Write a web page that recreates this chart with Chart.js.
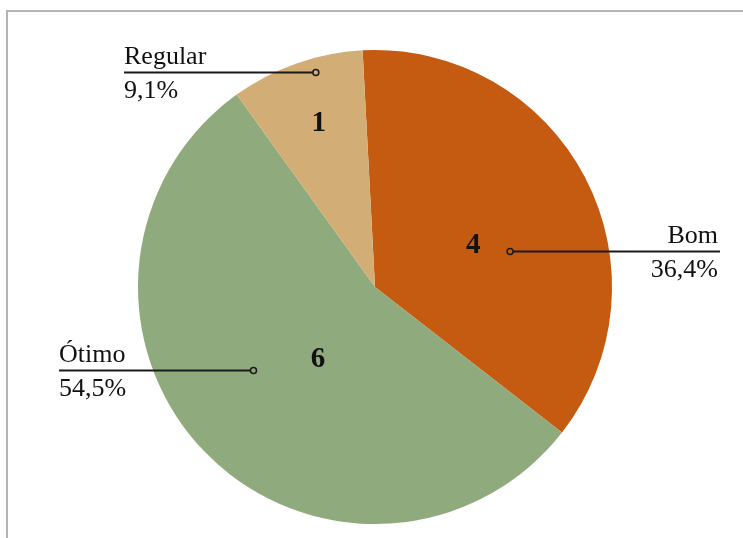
<!DOCTYPE html>
<html>
<head>
<meta charset="utf-8">
<script src="https://cdn.jsdelivr.net/npm/chart.js@4"></script>
<style>
  html, body { margin: 0; padding: 0; background: #ffffff; }
  canvas { display: block; }
</style>
</head>
<body>
<canvas id="pieChart" width="743" height="538"></canvas>
<script>
// Avaliação: contagem por categoria
const categories = ['Bom', 'Ótimo', 'Regular'];
const counts = [4, 6, 1];
const percentLabels = ['36,4%', '54,5%', '9,1%'];
const sliceColors = ['#C55A11', '#8FAA7C', '#D2AD75'];

// where each slice's number and callout sit (angle in degrees from top, radius as fraction)
const calloutLayout = [
    { numAngle: 67, numR: 0.45, dotAngle: 75, dotR: 0.59, side: 'right', edge: 720 },
    { numAngle: 218, numR: 0.39, dotAngle: 235.8, dotR: 0.62, side: 'left', edge: 59 },
    { numAngle: 341, numR: 0.73, dotAngle: 344.6, dotR: 0.94, side: 'left', edge: 124 }
];

const SERIF = '"Liberation Serif", "Times New Roman", serif';

function polar(cx, cy, r, deg) {
    const a = (deg - 90) * Math.PI / 180;
    return { x: cx + r * Math.cos(a), y: cy + r * Math.sin(a) };
}

// gray frame round the figure
const framePlugin = {
    id: 'frame',
    beforeDraw(chart) {
        const ctx = chart.ctx;
        ctx.save();
        ctx.strokeStyle = '#b4b4b4';
        ctx.lineWidth = 2;
        ctx.beginPath();
        ctx.moveTo(7, 538);
        ctx.lineTo(7, 11);
        ctx.lineTo(743, 11);
        ctx.stroke();
        ctx.restore();
    }
};

// numbers inside the slices and the leader-line callouts
const calloutPlugin = {
    id: 'callouts',
    afterDatasetsDraw(chart) {
        const ctx = chart.ctx;
        const meta = chart.getDatasetMeta(0);
        meta.data.forEach(function (arc, i) {
            const lay = calloutLayout[i];
            const cx = arc.x, cy = arc.y, r = arc.outerRadius;

            // count inside slice
            const np = polar(cx, cy, r * lay.numR, lay.numAngle);
            ctx.save();
            ctx.fillStyle = '#111111';
            ctx.font = 'bold 29px ' + SERIF;
            ctx.textAlign = 'center';
            ctx.textBaseline = 'middle';
            ctx.fillText(String(counts[i]), np.x, np.y);

            // leader line
            const dp = polar(cx, cy, r * lay.dotR, lay.dotAngle);
            const ly = Math.round(dp.y) + 0.5;
            ctx.strokeStyle = '#1a1a1a';
            ctx.lineWidth = 2;
            ctx.beginPath();
            ctx.moveTo(dp.x, ly);
            ctx.lineTo(lay.edge, ly);
            ctx.stroke();

            ctx.fillStyle = sliceColors[i];
            ctx.lineWidth = 1.5;
            ctx.beginPath();
            ctx.arc(dp.x, ly, 3, 0, Math.PI * 2);
            ctx.fill();
            ctx.stroke();

            // category name above, percent below
            ctx.fillStyle = '#111111';
            ctx.font = '26px ' + SERIF;
            ctx.textBaseline = 'alphabetic';
            ctx.textAlign = lay.side === 'right' ? 'right' : 'left';
            const tx = lay.side === 'right' ? lay.edge - 2 : lay.edge;
            ctx.fillText(categories[i], tx, ly - 9);
            ctx.fillText(percentLabels[i], tx, ly + 25);
            ctx.restore();
        });
    }
};

new Chart(document.getElementById('pieChart').getContext('2d'), {
    type: 'pie',
    data: {
        labels: categories,
        datasets: [{
            data: counts,
            backgroundColor: sliceColors,
            borderWidth: 0
        }]
    },
    options: {
        responsive: false,
        animation: false,
        rotation: -3,
        layout: {
            padding: { left: 138, right: 131, top: 50, bottom: 14 }
        },
        plugins: {
            legend: { display: false },
            tooltip: { enabled: false }
        }
    },
    plugins: [framePlugin, calloutPlugin]
});
</script>
</body>
</html>
